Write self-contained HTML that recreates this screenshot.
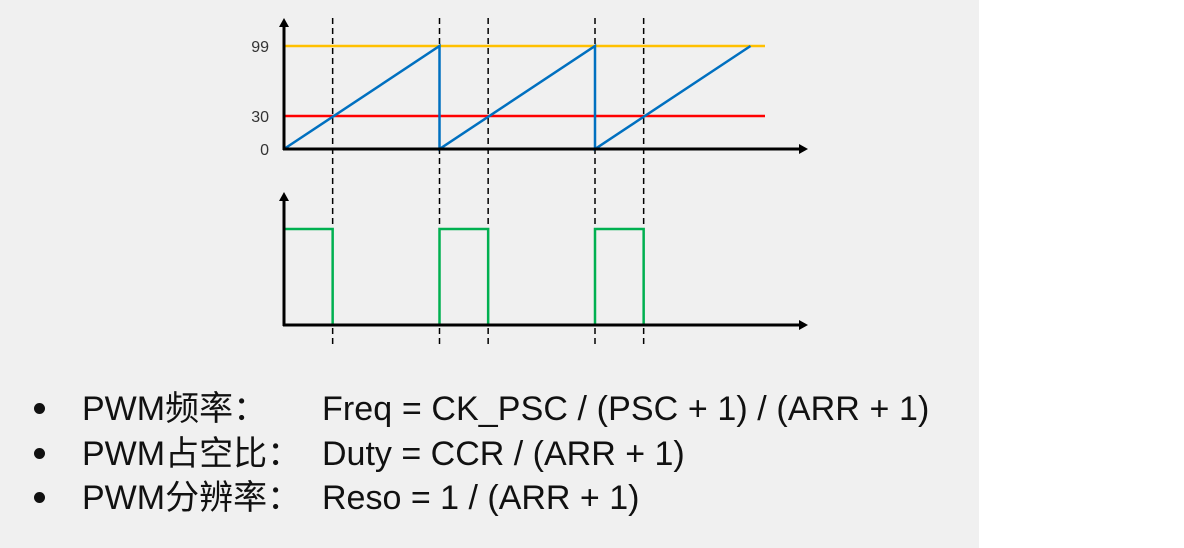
<!DOCTYPE html>
<html><head><meta charset="utf-8"><style>
body{margin:0;width:1184px;height:548px;background:#fff;overflow:hidden}
#bg{position:absolute;left:0;top:0;width:979px;height:548px;background:#f0f0f0}
.line{position:absolute;left:0;height:44px;line-height:44px;font-family:"Liberation Sans","Noto Sans CJK SC",sans-serif;font-size:34px;color:#111;white-space:pre}
.line span{position:absolute;top:0}
.dot{position:absolute;left:34px;top:16px;width:11px;height:11px;border-radius:50%;background:#111}
</style></head><body>
<div id="bg"></div>
<svg id="c" width="1184" height="548" style="position:absolute;left:0;top:0"></svg>
<div class="line" style="top:387px"><div class="dot"></div><span style="left:82px">PWM频率：</span><span style="left:322px;letter-spacing:0.1px">Freq = CK_PSC / (PSC + 1) / (ARR + 1)</span></div>
<div class="line" style="top:432px"><div class="dot"></div><span style="left:82px">PWM占空比：</span><span style="left:322px">Duty = CCR / (ARR + 1)</span></div>
<div class="line" style="top:476px"><div class="dot"></div><span style="left:82px">PWM分辨率：</span><span style="left:322px">Reso = 1 / (ARR + 1)</span></div>
<script>
const ARR = 99;
const CCR = 30;
const periods = [0, 1, 2];
const yTicks = [0, 30, 99];
const NS="http://www.w3.org/2000/svg", svg=document.getElementById('c');
const x0=284, pxPerCount=1.555;
const xs=t=>x0+t*pxPerCount+(t%(ARR+1)===0?0:2);
const ys=v=>149-(v===0?0:v===ARR?103:33*v/30);
const yb=v=>325-v*96;
function el(tag,a){const e=document.createElementNS(NS,tag);for(const k in a)e.setAttribute(k,a[k]);svg.appendChild(e);return e;}
let e=el('line',{x1:x0,x2:765,y1:ys(ARR),y2:ys(ARR),stroke:'#ffc000','stroke-width':2.5});

e=el('line',{x1:x0,x2:765,y1:ys(CCR),y2:ys(CCR),stroke:'#ff0000','stroke-width':2.5});

const dashT=[];
periods.forEach(p=>{dashT.push(p*(ARR+1)+CCR);if(p>0)dashT.push(p*(ARR+1));});
dashT.forEach(t=>{const d=el('line',{x1:xs(t),x2:xs(t),y1:18,y2:346,stroke:'#000','stroke-width':1.5,'stroke-dasharray':'6,4'});
});
let pts=[];
periods.forEach(p=>{const s=p*(ARR+1);pts.push(xs(s)+','+ys(0));pts.push(xs(s+ARR+1)+','+ys(ARR));});
e=el('polyline',{points:pts.join(' '),fill:'none',stroke:'#0070c0','stroke-width':2.5});

pts=[];
periods.forEach(p=>{const s=p*(ARR+1);pts.push(xs(s)+','+yb(0),xs(s)+','+yb(1),xs(s+CCR)+','+yb(1),xs(s+CCR)+','+yb(0),xs(s+ARR+1)+','+yb(0));});
e=el('polyline',{points:pts.join(' '),fill:'none',stroke:'#00b050','stroke-width':2.5});

[[149,18],[325,192]].forEach(([by,ty],i)=>{
 let a=el('line',{x1:x0,x2:x0,y1:by+1,y2:ty+8,stroke:'#000','stroke-width':3});
 
 a=el('polygon',{points:`${x0-5},${ty+9} ${x0+5},${ty+9} ${x0},${ty}`,fill:'#000'});
 
 a=el('line',{x1:x0-1,x2:800,y1:by,y2:by,stroke:'#000','stroke-width':3});
 
 a=el('polygon',{points:`799,${by-5} 799,${by+5} 808,${by}`,fill:'#000'});
 
});
yTicks.forEach(v=>{const t=el('text',{x:269,y:ys(v)+6,'text-anchor':'end','font-family':'Liberation Sans, sans-serif','font-size':16,fill:'#333'});
t.textContent=v;});
</script>
</body></html>
